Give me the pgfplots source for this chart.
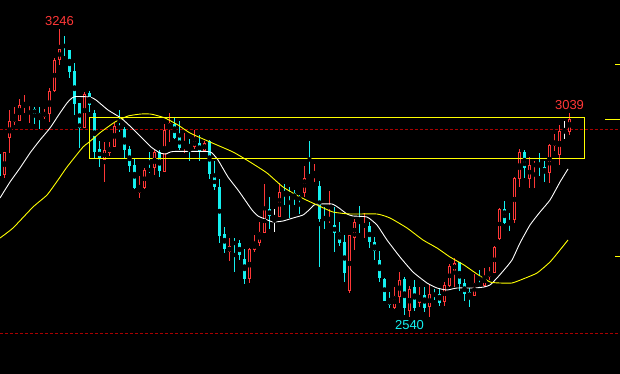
\documentclass[border=0pt]{standalone}
\usepackage{pgfplots}
\pgfplotsset{compat=1.18}
\usepackage{pgfplotstable}
\usepackage{fontspec}
\setmainfont{Liberation Sans}
\definecolor{cred}{RGB}{255,55,55}
\definecolor{ccyan}{RGB}{20,240,240}
\definecolor{cyel}{RGB}{255,255,0}
\definecolor{cdash}{RGB}{170,0,0}

% candle data in chart pixel units (y downward): x, high, body top, body bottom, low
\pgfplotstableread{
x hi top bot lo
4.5 152 152 175 178
9.5 110 121 138 153
14.5 107 117 122 125
19.5 99 105 121 121
24.5 95 104 107 113
29.5 102 103 105 123
44.5 109 112 117 119
49.5 88 91 114 122
54.5 58 60 91 92
59.5 29 49 60 65
84.5 92 94 128 128
104.5 142 150 160 182
109.5 142 147 153 156
114.5 123 126 147 147
139.5 176 188 193 198
144.5 168 170 188 189
154.5 149 152 168 175
164.5 124 130 172 172
169.5 113 123 128 142
184.5 133 145 149 153
194.5 130 140 147 149
204.5 141 143 151 152
229.5 238 246 252 261
249.5 248 249 279 283
254.5 235 243 250 252
259.5 222 232 243 246
264.5 184 209 233 233
279.5 183 192 217 217
304.5 166 178 193 197
314.5 164 175 177 182
329.5 191 218 220 223
349.5 235 235 291 293
354.5 219 222 238 250
364.5 213 224 227 238
394.5 287 296 308 309
399.5 272 280 297 303
409.5 286 289 311 317
419.5 287 296 303 307
429.5 285 294 307 317
444.5 282 285 302 306
449.5 264 266 286 287
454.5 258 263 271 287
474.5 274 283 296 296
484.5 268 276 286 287
489.5 267 272 277 280
494.5 246 247 273 273
499.5 208 209 239 240
514.5 177 178 220 223
519.5 149 152 179 187
529.5 157 165 179 188
534.5 161 164 166 188
549.5 144 145 173 183
554.5 134 141 146 151
559.5 125 131 155 165
569.5 113 119 132 135
}\redtab

\pgfplotstableread{
x hi top bot lo
-0.5 152 154 176 178
34.5 107 109 114 124
39.5 107 113 117 129
64.5 36 45 47 56
69.5 50 50 72 78
74.5 63 71 104 115
79.5 103 103 128 148
89.5 91 93 105 112
94.5 110 113 152 158
99.5 141 149 159 167
119.5 110 126 129 132
124.5 127 129 150 158
129.5 146 149 166 172
134.5 159 165 188 189
149.5 152 169 171 173
159.5 150 152 171 177
174.5 118 124 138 139
179.5 121 137 148 150
189.5 139 145 147 161
199.5 135 143 152 161
209.5 140 141 174 179
214.5 161 177 187 190
219.5 179 187 236 243
224.5 227 234 249 253
234.5 238 242 244 272
239.5 240 243 255 260
244.5 249 259 279 284
269.5 197 209 216 229
284.5 184 192 194 205
289.5 187 193 195 218
294.5 190 193 198 205
299.5 195 197 200 214
309.5 141 175 177 178
319.5 181 186 219 267
324.5 207 218 220 229
334.5 207 225 233 252
339.5 222 232 243 246
344.5 235 242 273 282
359.5 206 221 223 233
369.5 222 226 242 248
374.5 237 242 251 260
379.5 251 260 278 282
384.5 278 279 301 301
389.5 292 300 305 308
404.5 277 279 308 315
414.5 280 287 308 311
424.5 287 295 308 312
434.5 289 294 296 300
439.5 288 294 303 306
459.5 262 262 284 291
464.5 279 283 294 301
469.5 288 292 297 307
479.5 270 283 286 287
504.5 201 209 223 224
509.5 213 222 225 231
524.5 150 152 168 178
539.5 153 164 167 176
544.5 161 167 173 182
}\cyantab

\pgfplotstableread{
x hi top bot lo
274.5 209 216.5 217.5 232
564.5 121 131 132 139
}\whitetab

\pgfplotsset{
  ebar/.style 2 args={only marks, mark=none, forget plot,
    error bars/.cd, y dir=both, y explicit, error mark=none,
    error bar style={solid, line width=#2, draw=#1, line cap=butt}},
}

\begin{document}
\begin{tikzpicture}
\begin{axis}[
  x=1pt, y=1pt,
  xmin=0, xmax=620, ymin=0, ymax=374,
  y dir=reverse,
  enlargelimits=false,
  axis line style={draw=none},
  xtick=\empty, ytick=\empty,
  axis background/.style={fill=black},
  clip=true,
]
% dashed reference lines
\addplot[cdash, line width=1pt, dash pattern=on 3pt off 2pt, forget plot] coordinates {(0,129.5) (620,129.5)};
\addplot[cdash, line width=1pt, dash pattern=on 3pt off 2pt, forget plot] coordinates {(0,333.5) (620,333.5)};

% red (up) candles: wick, body, hollow interior
\addplot[ebar={cred}{1pt}] table[x=x, y expr={(\thisrow{hi}+\thisrow{lo})/2}, y error expr={(\thisrow{lo}-\thisrow{hi})/2}] {\redtab};
\addplot[ebar={cred}{3pt}] table[x=x, y expr={(\thisrow{top}+\thisrow{bot})/2}, y error expr={max((\thisrow{bot}-\thisrow{top})/2,0.5)}] {\redtab};
\addplot[ebar={black}{1pt}] table[x=x, y expr={(\thisrow{top}+\thisrow{bot})/2}, y error expr={max((\thisrow{bot}-\thisrow{top})/2-1,0)}] {\redtab};

% cyan (down) candles
\addplot[ebar={ccyan}{1pt}] table[x=x, y expr={(\thisrow{hi}+\thisrow{lo})/2}, y error expr={(\thisrow{lo}-\thisrow{hi})/2}] {\cyantab};
\addplot[ebar={ccyan}{3pt}] table[x=x, y expr={(\thisrow{top}+\thisrow{bot})/2}, y error expr={max((\thisrow{bot}-\thisrow{top})/2,0.5)}] {\cyantab};

% white doji candles
\addplot[ebar={white}{1pt}] table[x=x, y expr={(\thisrow{hi}+\thisrow{lo})/2}, y error expr={(\thisrow{lo}-\thisrow{hi})/2}] {\whitetab};
\addplot[ebar={white}{3pt}] table[x=x, y expr={(\thisrow{top}+\thisrow{bot})/2}, y error expr={max((\thisrow{bot}-\thisrow{top})/2,0.5)}] {\whitetab};

% moving averages
\addplot[white, line width=0.9pt, smooth, tension=0.3, forget plot] coordinates {
(0,198) (10,182) (20,168) (30,153) (40,140) (50,128) (60,113) (67,103) (72,98) (76,96.5)
(90,97) (96,100) (108,110) (121,118) (131,127) (141,137) (151,147) (160,153) (166,154)
(173,151.5) (207,151.5) (212,153) (218,160) (228,177) (238,190) (245,200) (252,210)
(258,216) (265,219) (273,222) (283,221) (293,218) (303,215) (309,210) (314,205) (319,204)
(332,204) (339,208) (347,214) (353,216) (367,217) (377,225) (387,240) (400,257) (413,272)
(427,283) (437,288) (447,290) (457,288) (474,288) (484,287) (490,285) (497,278) (504,270)
(512,260) (520,243) (530,225) (540,212) (550,200) (560,182) (568,169)};
\addplot[cyel, line width=0.9pt, smooth, tension=0.3, forget plot] coordinates {
(0,238) (13,228) (33,207) (47,195) (58,180) (67,167) (83,147) (88,143) (101,132) (115,122)
(128,116) (141,114) (150,114) (155,115) (165,118) (178,125) (190,133) (210,142) (233,152)
(250,162) (267,173) (283,187) (300,197) (317,205) (333,212) (350,214) (377,214) (390,218)
(407,228) (423,240) (437,248) (450,257) (464,265) (477,274) (490,282) (500,283) (512,283)
(523,279) (537,273) (550,262) (560,250) (568,240)};

% yellow box
\addplot[cyel, line width=1.3pt, forget plot] coordinates {(89.5,117.5) (584.5,117.5) (584.5,158.5) (89.5,158.5) (89.5,117.5)};

% right-edge marks
\addplot[cyel, line width=1pt, forget plot] coordinates {(615,64.5) (620,64.5)};
\addplot[cyel, line width=1pt, forget plot] coordinates {(605,119.5) (620,119.5)};
\addplot[cyel, line width=1pt, forget plot] coordinates {(615,256.5) (620,256.5)};

% labels
\node[text=cred, font=\fontsize{13}{13}\selectfont] at (axis cs:59.5,21.5) {3246};
\node[text=cred, font=\fontsize{13}{13}\selectfont] at (axis cs:569.5,105.5) {3039};
\node[text=ccyan, font=\fontsize{13}{13}\selectfont] at (axis cs:409.5,325.5) {2540};
\end{axis}
\end{tikzpicture}
\end{document}
